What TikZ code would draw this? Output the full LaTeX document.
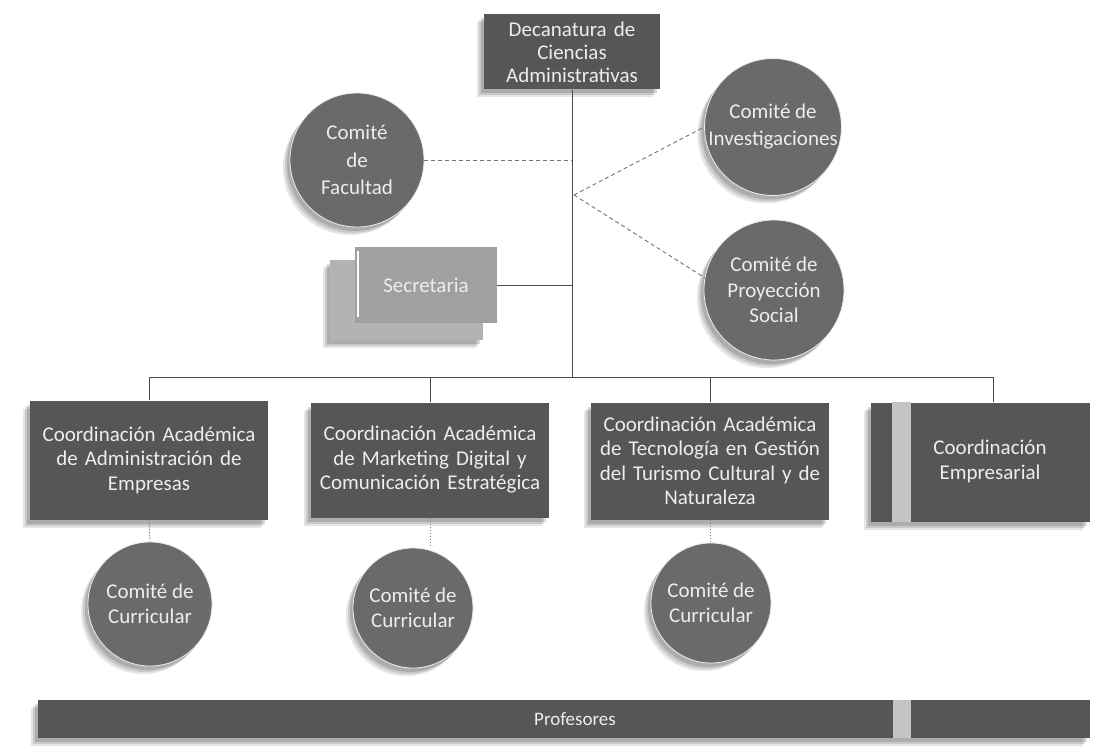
\documentclass[tikz,border=0pt]{standalone}
\usepackage{fontspec}
\setmainfont{Carlito}
\usetikzlibrary{shadows,calc}
\definecolor{boxdark}{HTML}{565656}
\definecolor{circgray}{HTML}{6A6A6A}
\definecolor{secgray}{HTML}{A0A0A0}
\definecolor{stripe}{HTML}{C4C4C4}
\definecolor{txt}{HTML}{EDEDED}
\definecolor{linec}{HTML}{4A4A4A}
\tikzset{
  myshadow/.style={
    drop shadow={shadow xshift=-7pt, shadow yshift=-8pt, opacity=0.10, fill=black},
    drop shadow={shadow xshift=-5pt, shadow yshift=-6pt, opacity=0.12, fill=black},
    drop shadow={shadow xshift=-3pt, shadow yshift=-4pt, opacity=0.14, fill=black}},
  darkbox/.style={rectangle, fill=boxdark, text=txt, align=center, inner sep=2pt, myshadow,
    font=\fontsize{21}{24.5}\selectfont},
  comite/.style={circle, fill=circgray, text=txt, align=center, inner sep=0pt, myshadow,
    draw=white!85!gray, line width=0.8pt,
    font=\fontsize{21}{25.5}\selectfont},
  conn/.style={draw=linec, line width=0.9pt},
  dconn/.style={draw=gray!90!black, line width=0.9pt, dash pattern=on 4pt off 3pt},
  dotconn/.style={draw=gray, line width=0.9pt, dash pattern=on 1.5pt off 1.5pt},
}
\begin{document}
\begin{tikzpicture}[x=1pt,y=-1pt]
\path[use as bounding box, fill=white] (0,0) rectangle (1099,749);

% top
\node[darkbox, minimum width=175pt, minimum height=75pt, text width=172pt, font=\fontsize{21}{23}\selectfont] (dec) at (572,52)
  {Decanatura de\\Ciencias\\Administrativas};

\coordinate (busL) at (150,377);
\coordinate (busR) at (993,377);
\coordinate (jn) at (574,195);

% connectors behind
\draw[conn] (dec.south) -- (dec.south |- busL);
\draw[conn] (busL) -- (busR);

% committees top
\node[comite, minimum size=134pt, font=\fontsize{21}{27.5}\selectfont] (fac) at (357,160) {Comité\\de\\Facultad};
\node[comite, minimum size=136pt, font=\fontsize{21}{27}\selectfont] (inv) at (773,127) {Comité de\\Investigaciones};
\node[comite, minimum size=140pt] (proy) at (774,290) {Comité de\\Proyección\\Social};

\draw[dconn] (fac.east) -- (fac.east -| dec.south);
\draw[dconn] (jn) -- (inv.west);
\draw[dconn] (jn) -- (proy.170);

% secretaria
\fill[secgray!80!white, myshadow] (330,260) rectangle (483,340);
\node[rectangle, fill=secgray, text=txt, minimum width=142pt, minimum height=76pt,
  font=\fontsize{21}{24}\selectfont] (sec) at (426,285) {Secretaria};
\draw[white, line width=1.5pt] ($(sec.north west)+(3,4)$) -- ($(sec.south west)+(3,-6)$);
\draw[conn] (sec.east) -- (sec.east -| dec.south);

% coordinations
\node[darkbox, minimum width=238pt, minimum height=119pt, text width=234pt] (c1) at (149,460)
  {Coordinación Académica\\de Administración de\\Empresas};
\node[darkbox, minimum width=237pt, minimum height=115pt, text width=234pt] (c2) at (430,460)
  {Coordinación Académica\\de Marketing Digital y\\Comunicación Estratégica};
\node[darkbox, minimum width=236pt, minimum height=117pt, text width=234pt] (c3) at (710,461)
  {Coordinación Académica\\de Tecnología en Gestión\\del Turismo Cultural y de\\Naturaleza};
\node[darkbox, minimum width=219pt, minimum height=119pt, text width=150pt] (c4) at (980,462)
  {};
\fill[stripe] ($(c4.north west)+(22,0)$) rectangle ($(c4.south west)+(41,0)$);
\node[text=txt, align=center, font=\fontsize{21}{25}\selectfont] (c4t) at (990,461)
  {Coordinación\\Empresarial};

\draw[conn] (c1.north) -- (c1.north |- busL);
\draw[conn] (c2.north) -- (c2.north |- busL);
\draw[conn] (c3.north) -- (c3.north |- busL);
\draw[conn] (c4.north -| busR) -- (busR);

% curricular committees
\node[comite, minimum size=124pt, font=\fontsize{21}{24.5}\selectfont] (cur1) at (150,604) {Comité de\\Curricular};
\node[comite, minimum size=120pt, font=\fontsize{21}{24.5}\selectfont] (cur2) at (413,608) {Comité de\\Curricular};
\node[comite, minimum size=120pt, font=\fontsize{21}{24.5}\selectfont] (cur3) at (711,603) {Comité de\\Curricular};

\draw[dotconn] (c1.south) -- (cur1.north);
\draw[dotconn] (c2.south) -- (c2.south |- cur2.north);
\draw[dotconn] (c3.south) -- (c3.south |- cur3.north);

% profesores
\node[rectangle, fill=boxdark, minimum width=1052pt, minimum height=38pt, inner sep=0pt, myshadow] (prof) at (564,719) {};
\fill[stripe] (893,700) rectangle (911,738);
\node[text=txt, font=\fontsize{19}{22}\selectfont] (proft) at (575,719) {Profesores};
\end{tikzpicture}
\end{document}
